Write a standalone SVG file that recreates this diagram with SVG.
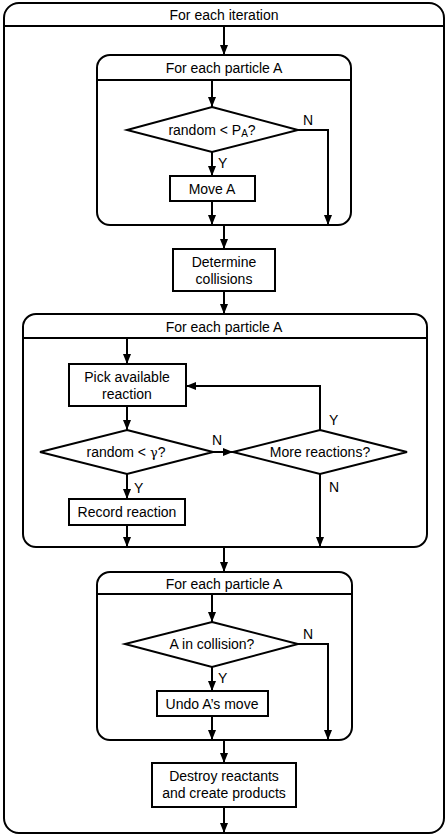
<svg xmlns="http://www.w3.org/2000/svg" width="448" height="837" viewBox="0 0 448 837">
<defs>
<marker id="ah" viewBox="0 0 10 8" refX="10" refY="4" markerWidth="10" markerHeight="8" markerUnits="userSpaceOnUse" orient="auto">
<path d="M0,0 L10,4 L0,8 z" fill="#000"/>
</marker>
<style>
.box{fill:#fff;stroke:#000;stroke-width:2}
.loop{fill:none;stroke:#000;stroke-width:2}
.c{fill:none;stroke:#000;stroke-width:2}
.a{marker-end:url(#ah)}
text{font-family:"Liberation Sans",Arial,sans-serif;font-size:14px;fill:#000;text-anchor:middle;dominant-baseline:central}
.lbl{text-anchor:start}
</style>
</defs>
<rect width="448" height="837" fill="#fff"/>

<g id="outer">
<rect class="loop" x="4" y="3" width="440" height="830" rx="15"/>
<line class="loop" x1="4" y1="26" x2="444" y2="26"/>
<text x="224" y="15">For each iteration</text>
</g>

<g id="loop1">
<rect class="loop" x="97" y="55" width="254" height="170" rx="13"/>
<line class="loop" x1="97" y1="80" x2="351" y2="80"/>
<text x="224" y="68">For each particle A</text>
</g>
<g id="dec1">
<polygon class="box" points="212,107 298,130 212,152 127,130"/>
<text x="212" y="130">random &lt; P<tspan font-size="10" dy="3">A</tspan><tspan dy="-3">?</tspan></text>
</g>
<g id="moveA">
<rect class="box" x="170" y="176" width="85" height="25"/>
<text x="212" y="189">Move A</text>
</g>

<g id="collisions">
<rect class="box" x="173" y="249" width="102" height="42"/>
<text x="224" y="262">Determine</text>
<text x="224" y="279">collisions</text>
</g>

<g id="loop2">
<rect class="loop" x="23" y="314" width="404" height="233" rx="13"/>
<line class="loop" x1="23" y1="338" x2="427" y2="338"/>
<text x="224" y="327">For each particle A</text>
</g>
<g id="pick">
<rect class="box" x="69" y="364" width="117" height="42"/>
<text x="127" y="377">Pick available</text>
<text x="127" y="394">reaction</text>
</g>
<g id="dec2">
<polygon class="box" points="127,430 213,452 127,474 40,452"/>
<text x="126" y="452">random &lt; <tspan font-family="'DejaVu Serif',serif" font-size="13">γ</tspan>?</text>
</g>
<g id="dec3">
<polygon class="box" points="320,430 407,452 320,474 233,452"/>
<text x="320" y="452">More reactions?</text>
</g>
<g id="record">
<rect class="box" x="69" y="499" width="116" height="26"/>
<text x="127" y="512">Record reaction</text>
</g>

<g id="loop3">
<rect class="loop" x="97" y="572" width="255" height="168" rx="13"/>
<line class="loop" x1="97" y1="594" x2="352" y2="594"/>
<text x="224" y="584">For each particle A</text>
</g>
<g id="dec4">
<polygon class="box" points="212,622 298,644 212,667 125,644"/>
<text x="212" y="644">A in collision?</text>
</g>
<g id="undo">
<rect class="box" x="157" y="691" width="111" height="25"/>
<text x="212" y="704">Undo A’s move</text>
</g>

<g id="destroy">
<rect class="box" x="152" y="763" width="144" height="44"/>
<text x="224" y="776">Destroy reactants</text>
<text x="224" y="793">and create products</text>
</g>

<g id="connectors">
<line class="c a" x1="224" y1="26" x2="224" y2="55"/>
<line class="c a" x1="212" y1="80" x2="212" y2="107"/>
<line class="c a" x1="212" y1="152" x2="212" y2="176"/>
<polyline class="c a" points="298,130 328,130 328,225"/>
<line class="c a" x1="212" y1="201" x2="212" y2="225"/>
<line class="c a" x1="224" y1="225" x2="224" y2="249"/>
<line class="c a" x1="224" y1="291" x2="224" y2="314"/>
<line class="c a" x1="127" y1="338" x2="127" y2="364"/>
<line class="c a" x1="127" y1="406" x2="127" y2="430"/>
<line class="c a" x1="213" y1="452" x2="233" y2="452"/>
<polyline class="c a" points="320,430 320,386 186,386"/>
<line class="c a" x1="127" y1="474" x2="127" y2="499"/>
<line class="c a" x1="127" y1="525" x2="127" y2="547"/>
<line class="c a" x1="320" y1="474" x2="320" y2="547"/>
<line class="c a" x1="224" y1="547" x2="224" y2="572"/>
<line class="c a" x1="212" y1="594" x2="212" y2="622"/>
<line class="c a" x1="212" y1="667" x2="212" y2="691"/>
<polyline class="c a" points="298,644 328,644 328,740"/>
<line class="c a" x1="212" y1="716" x2="212" y2="740"/>
<line class="c a" x1="224" y1="740" x2="224" y2="763"/>
<line class="c a" x1="224" y1="807" x2="224" y2="833"/>
<text class="lbl" x="303" y="120">N</text>
<text class="lbl" x="218" y="163">Y</text>
<text class="lbl" x="212" y="440">N</text>
<text class="lbl" x="329" y="420">Y</text>
<text class="lbl" x="329" y="487">N</text>
<text class="lbl" x="134" y="488">Y</text>
<text class="lbl" x="303" y="634">N</text>
<text class="lbl" x="218" y="678">Y</text>
</g>
</svg>
